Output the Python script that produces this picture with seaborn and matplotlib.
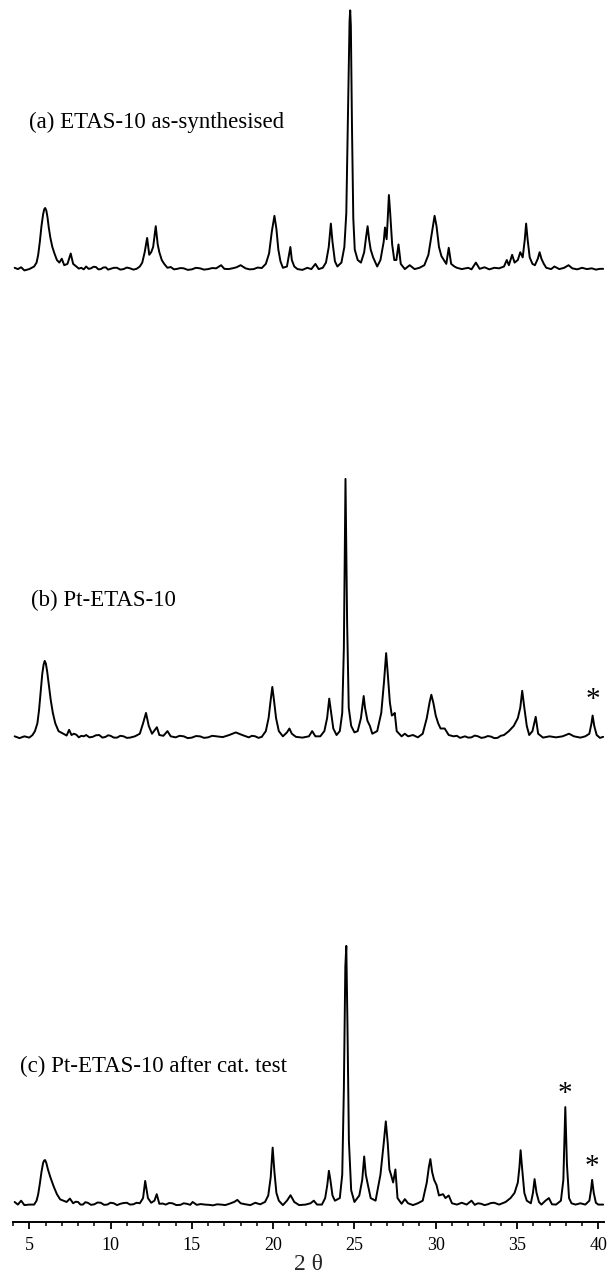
import numpy as np
import pandas as pd
import matplotlib
matplotlib.use("Agg")
import matplotlib.pyplot as plt
from matplotlib.ticker import MultipleLocator
import seaborn as sns

# ---------------- data (main peak = 100) ----------------
a_x = [4.1, 4.3, 4.5, 4.7, 5.0, 5.15, 5.3, 5.45, 5.55, 5.65, 5.75, 5.85, 5.92, 5.98, 6.05, 6.12, 6.2, 6.3, 6.42, 6.55,
       6.7, 6.85, 7.0, 7.15, 7.35, 7.55, 7.7, 7.9, 8.05, 8.2, 8.35, 8.5, 8.65, 8.8, 8.95, 9.1, 9.25, 9.4, 9.55, 9.7,
       9.85, 10.0, 10.2, 10.4, 10.6, 10.8, 11.0, 11.2, 11.4, 11.6, 11.8, 11.95, 12.1, 12.25, 12.38, 12.5, 12.62, 12.78, 12.9, 13.0,
       13.15, 13.3, 13.5, 13.7, 13.9, 14.1, 14.3, 14.5, 14.75, 15.0, 15.25, 15.5, 15.75, 16.0, 16.25, 16.5, 16.8, 17.0, 17.25, 17.5,
       17.75, 18.0, 18.3, 18.55, 18.8, 19.05, 19.3, 19.55, 19.75, 19.92, 20.08, 20.2, 20.32, 20.45, 20.6, 20.85, 20.98, 21.06, 21.15, 21.3,
       21.5, 21.8, 22.1, 22.35, 22.6, 22.8, 23.05, 23.25, 23.42, 23.55, 23.65, 23.8, 23.95, 24.2, 24.38, 24.5, 24.6, 24.7, 24.74, 24.78,
       24.85, 24.93, 25.02, 25.2, 25.4, 25.6, 25.72, 25.81, 25.9, 26.0, 26.15, 26.4, 26.6, 26.8, 26.88, 26.98, 27.05, 27.12, 27.2, 27.32,
       27.45, 27.58, 27.71, 27.85, 28.1, 28.4, 28.7, 29.0, 29.3, 29.55, 29.75, 29.93, 30.05, 30.2, 30.35, 30.5, 30.65, 30.8, 30.95, 31.15,
       31.3, 31.6, 32.0, 32.2, 32.47, 32.7, 33.0, 33.3, 33.6, 33.9, 34.2, 34.37, 34.5, 34.7, 34.85, 35.05, 35.2, 35.35, 35.48, 35.56,
       35.65, 35.78, 35.95, 36.1, 36.28, 36.39, 36.5, 36.65, 36.8, 37.1, 37.3, 37.6, 37.9, 38.17, 38.4, 38.7, 39.0, 39.3, 39.6, 39.85,
       40.1, 40.3]
a_y = [1, 0.5, 1.2, 0, 0.5, 1.0, 1.5, 3, 6, 11, 17, 21.5, 23.5, 24, 23, 20.5, 16.5, 12.5, 9, 6.5,
       4, 3, 4.5, 2, 2.5, 6.5, 2.5, 1.5, 0.7, 1, 0.4, 1.5, 0.6, 0.8, 1.4, 1.3, 0.4, 0.5, 1.1, 1.2,
       0.3, 0.6, 1.0, 1.0, 0.3, 0.5, 1.1, 0.8, 0.3, 0.6, 1.5, 3, 7, 12.5, 6, 7, 9, 17, 10, 7,
       4, 2.5, 1, 1.3, 0.4, 0.6, 0.9, 0.8, 0.2, 0.4, 1.0, 0.8, 0.3, 0.5, 0.9, 0.8, 2, 0.6, 0.5, 0.8,
       1.2, 2, 0.8, 0.4, 0.5, 1.1, 0.9, 2.5, 6.5, 15, 21, 16, 8, 3.5, 1, 1.5, 6, 9, 4, 1.5,
       0.5, 0.2, 1, 0.5, 2.5, 0.5, 1, 3, 9, 18, 11, 3.5, 1.5, 3, 9, 22, 60, 96, 100, 94,
       55, 20, 8, 4, 3, 7, 13, 17, 12, 8, 5, 1.5, 4, 11, 16.5, 12, 20, 29, 22, 10,
       4, 4, 10, 2.5, 0.5, 2, 0.5, 1, 2, 6, 14, 21, 17, 9, 5.5, 4, 2.5, 8.7, 2.5, 1.5,
       1, 0.5, 1, 0.4, 3, 0.6, 1.2, 0.4, 1, 0.8, 1.5, 4, 2, 6, 3, 4, 7, 5, 12, 18,
       12, 5, 2.5, 2, 4.5, 7, 4.5, 2.5, 1, 0.5, 1.5, 0.5, 1, 2, 0.8, 0.4, 1, 0.5, 0.8, 0.3,
       0.6, 0.6]

b_x = [4.1, 4.4, 4.7, 5.0, 5.2, 5.35, 5.5, 5.6, 5.7, 5.8, 5.88, 5.95, 6.02, 6.1, 6.2, 6.32, 6.45, 6.6, 6.8, 7.1,
       7.3, 7.45, 7.6, 7.75, 7.9, 8.05, 8.2, 8.35, 8.5, 8.7, 8.9, 9.1, 9.3, 9.5, 9.7, 9.85, 10.0, 10.2, 10.4, 10.6,
       10.8, 11.0, 11.2, 11.5, 11.8, 12.0, 12.18, 12.35, 12.55, 12.85, 13.0, 13.25, 13.5, 13.7, 14.0, 14.25, 14.5, 14.75, 15.0, 15.25,
       15.5, 15.75, 16.0, 16.25, 16.5, 16.9, 17.3, 17.7, 18.1, 18.5, 18.7, 18.9, 19.1, 19.3, 19.55, 19.72, 19.85, 19.95, 20.05, 20.18,
       20.35, 20.6, 20.85, 21.0, 21.15, 21.4, 21.8, 22.2, 22.4, 22.6, 22.9, 23.15, 23.32, 23.45, 23.55, 23.7, 23.9, 24.1, 24.25, 24.35,
       24.45, 24.55, 24.65, 24.8, 25.0, 25.2, 25.4, 25.5, 25.57, 25.65, 25.8, 25.95, 26.1, 26.4, 26.65, 26.82, 26.95, 27.05, 27.18, 27.3,
       27.42, 27.48, 27.6, 27.9, 28.1, 28.3, 28.6, 28.9, 29.2, 29.45, 29.62, 29.73, 29.85, 30.0, 30.15, 30.3, 30.55, 30.8, 31.1, 31.3,
       31.5, 31.8, 32.0, 32.2, 32.4, 32.6, 32.8, 33.0, 33.2, 33.4, 33.6, 33.8, 34.0, 34.2, 34.5, 34.8, 35.05, 35.2, 35.32, 35.45,
       35.6, 35.75, 35.95, 36.15, 36.3, 36.6, 37.0, 37.4, 37.8, 38.2, 38.5, 38.9, 39.2, 39.45, 39.58, 39.65, 39.75, 39.9, 40.1, 40.3]
b_y = [1, 0.3, 1, 0.5, 1.5, 3, 6, 11, 18, 25, 28.5, 30, 29, 26, 21, 15, 10, 6, 3, 2,
       1.3, 3.5, 1.5, 2, 1.6, 0.6, 1.2, 1.0, 1.5, 0.6, 0.8, 1.4, 1.5, 0.5, 0.8, 1.4, 1.2, 0.5, 0.5, 1.2,
       1, 0.4, 0.5, 1, 2, 6, 10, 5, 2, 4.5, 1.5, 1.2, 3, 1, 0.6, 1.2, 1, 0.3, 0.5, 1.1,
       1, 0.4, 0.6, 1.2, 1, 0.7, 1.5, 2.5, 1.5, 0.6, 1.2, 1, 0.4, 0.8, 3, 8, 15, 20, 15, 8,
       3, 1, 2.5, 4, 2, 0.8, 0.5, 1, 3, 1, 1, 3, 8, 15.5, 11, 4, 1.5, 3, 10, 35,
       100, 45, 12, 5, 2.5, 3, 8, 13, 16.5, 12, 7, 5, 2, 3, 10, 22, 33, 25, 14, 9,
       9.5, 10, 3, 1, 2, 1, 1.5, 0.6, 2, 8, 14, 17, 14, 9, 6, 4, 4, 1.5, 1, 1.2,
       0.4, 1, 0.5, 0.6, 1.3, 1, 0.4, 0.6, 1.1, 0.9, 0.3, 0.4, 1.2, 1.5, 3, 5, 8, 12, 18.5, 12,
       5, 1.5, 3, 8.5, 2, 0.5, 1, 0.6, 1, 2, 1, 0.5, 1, 2, 6, 9, 5, 1.5, 0.4, 0.8]

c_x = [4.1, 4.3, 4.5, 4.7, 5.0, 5.3, 5.45, 5.55, 5.65, 5.75, 5.85, 5.92, 5.98, 6.05, 6.15, 6.3, 6.5, 6.7, 6.9, 7.1,
       7.3, 7.5, 7.7, 7.85, 8.0, 8.15, 8.3, 8.45, 8.6, 8.8, 9.0, 9.2, 9.4, 9.6, 9.8, 10.0, 10.2, 10.4, 10.6, 10.8,
       11.0, 11.2, 11.4, 11.6, 11.8, 12.0, 12.13, 12.3, 12.5, 12.7, 12.84, 13.0, 13.2, 13.4, 13.6, 13.8, 14.05, 14.3, 14.5, 14.7,
       14.9, 15.05, 15.3, 15.55, 15.8, 16.05, 16.3, 16.55, 16.8, 17.05, 17.3, 17.6, 17.8, 18.0, 18.3, 18.6, 18.9, 19.2, 19.5, 19.7,
       19.85, 19.97, 20.08, 20.2, 20.35, 20.6, 20.85, 21.07, 21.3, 21.6, 22.0, 22.3, 22.5, 22.7, 23.0, 23.2, 23.33, 23.43, 23.52, 23.65,
       23.8, 24.1, 24.25, 24.35, 24.44, 24.5, 24.57, 24.66, 24.8, 25.0, 25.3, 25.48, 25.6, 25.7, 25.84, 26.0, 26.3, 26.6, 26.8, 26.93,
       27.05, 27.15, 27.25, 27.38, 27.52, 27.65, 27.9, 28.1, 28.3, 28.6, 28.9, 29.2, 29.45, 29.58, 29.67, 29.78, 29.9, 30.05, 30.2, 30.45,
       30.6, 30.8, 31.0, 31.3, 31.6, 31.9, 32.2, 32.4, 32.6, 32.8, 33.0, 33.2, 33.4, 33.6, 33.9, 34.3, 34.6, 34.85, 35.05, 35.15,
       35.22, 35.32, 35.45, 35.6, 35.85, 35.98, 36.08, 36.2, 36.35, 36.5, 36.75, 36.96, 37.15, 37.4, 37.7, 37.85, 37.97, 38.07, 38.2, 38.35,
       38.6, 38.9, 39.2, 39.45, 39.55, 39.62, 39.72, 39.85, 40.0, 40.3]
c_y = [1.5, 0.5, 2, 0.3, 0.5, 0.5, 2, 4.5, 8.5, 13, 16.5, 17.5, 17.6, 16.5, 14, 11, 7.5, 4.5, 2.5, 2,
       1.5, 2.8, 1, 1.6, 1.5, 0.5, 0.5, 1.4, 1.2, 0.4, 0.6, 1.3, 1.2, 0.4, 0.5, 1.2, 1, 0.3, 0.8, 1.1,
       1.2, 0.5, 0.6, 1.2, 1, 3, 9.6, 3, 1.2, 2, 4.5, 0.8, 0.9, 0.5, 1.1, 1, 0.3, 0.4, 1, 0.8,
       0.4, 1.5, 0.4, 0.7, 0.5, 0.4, 0.2, 0.6, 0.5, 0.3, 0.8, 1.5, 2.3, 1, 0.6, 0.3, 1.2, 0.6, 1.5, 4,
       11, 22.4, 13, 5, 2, 0.3, 2, 4.1, 1.5, 0.3, 0.5, 1, 2, 0.5, 0.5, 3, 8, 13.5, 10, 4,
       2, 3, 12, 45, 92, 100, 70, 25, 6, 1.5, 4, 10, 19, 12, 7.7, 3, 2, 12, 24, 32.5,
       24, 14, 12, 9, 14, 3, 0.8, 2.6, 1, 0.3, 1, 2, 9, 15, 18, 13, 10, 8, 4, 4.5,
       3, 4, 1, 0.5, 1.2, 0.5, 2, 0.4, 1, 0.8, 0.3, 0.6, 1.1, 1.2, 0.5, 1.5, 3, 5, 9, 15,
       21.4, 14, 5, 2, 1, 5, 10.3, 5, 1.5, 0.5, 2, 3, 0.6, 0.5, 2, 10, 38, 16, 3, 1,
       0.5, 1, 0.5, 2, 6, 10, 5, 1.2, 0.5, 0.5]

pattern_names = ["(a) ETAS-10 as-synthesised", "(b) Pt-ETAS-10", "(c) Pt-ETAS-10 after cat. test"]
tick_values = [5, 10, 15, 20, 25, 30, 35, 40]
star_b = [39.65]            # marked reflections (*)
star_c = [37.97, 39.62]

# ---------------- layout / style ----------------
offsets = {"a": 366.0, "b": 185.8, "c": 6.2}
label_pos = {"a": (5.0, 423.0), "b": (5.1, 239.2), "c": (4.4, 60.0)}
star_gap = {"b": 1.0, "c": 0.0}

frames = []
for key, xs, ys in (("a", a_x, a_y), ("b", b_x, b_y), ("c", c_x, c_y)):
    frames.append(pd.DataFrame({"two_theta": xs,
                                "intensity": np.asarray(ys, float) + offsets[key],
                                "pattern": key}))
df = pd.concat(frames, ignore_index=True)

sns.set_theme(style="white")
plt.rcParams["font.family"] = ["Liberation Serif", "DejaVu Serif"]

fig = plt.figure(figsize=(6.07, 12.75), dpi=100)
ax = fig.add_axes([13 / 607, 53 / 1275, (604 - 13) / 607, 1222 / 1275])

sns.lineplot(data=df, x="two_theta", y="intensity", units="pattern", estimator=None,
             sort=False, color="black", linewidth=1.4, ax=ax)

ax.set_xlim(4.0, 40.35)
ax.set_ylim(0, 470)

for key, name in zip(("a", "b", "c"), pattern_names):
    x0, y0 = label_pos[key]
    ax.text(x0, y0, name, fontsize=16.5, va="center", ha="left", color="black")

star_sets = {"b": (star_b, b_x, b_y), "c": (star_c, c_x, c_y)}
for key, (stars, xs, ys) in star_sets.items():
    for s in stars:
        i = int(np.argmin(np.abs(np.asarray(xs) - s)))
        ax.text(s, ys[i] + offsets[key] + star_gap[key], "*", fontsize=21, ha="center",
                va="bottom", color="black")

for side in ("top", "right", "left"):
    ax.spines[side].set_visible(False)
ax.spines["bottom"].set_color("black")
ax.spines["bottom"].set_linewidth(1.4)
ax.set_yticks([])
ax.set_ylabel("")
ax.set_xticks(tick_values)
ax.xaxis.set_minor_locator(MultipleLocator(1))
ax.tick_params(axis="x", which="major", direction="out", length=5, width=1.3,
               labelsize=13, pad=6, colors="black", bottom=True)
ax.tick_params(axis="x", which="minor", direction="out", length=3, width=1.1,
               colors="black", bottom=True)
ax.set_xlabel("2 θ", fontsize=17, labelpad=0)
ax.grid(False)

fig.savefig("out.png", dpi=100)
